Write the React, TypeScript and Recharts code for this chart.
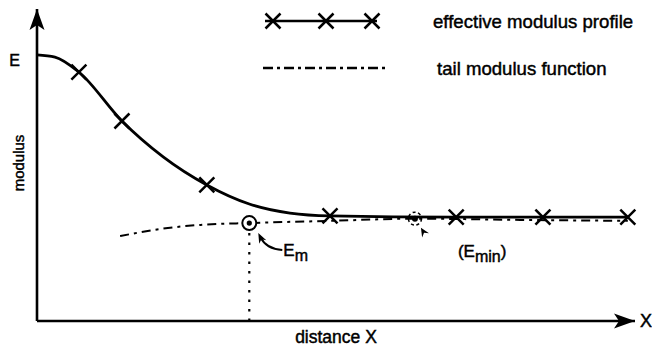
import {
  ComposedChart, Line, Scatter, XAxis, YAxis, ReferenceLine, ReferenceDot, Legend,
} from "recharts";

// values (distance 0-100, modulus 0-100)
const profileDistance = [0, 3.0, 7.0, 14.2, 21.1, 28.4, 35.5, 42.3, 49.0, 70.1, 84.6, 98.8];
const profileModulus = [85.3, 84.6, 79.8, 64.1, 52.6, 43.6, 37.5, 34.6, 33.7, 33.3, 33.3, 33.3];
const markDistance = [7.0, 14.2, 28.4, 49.0, 70.1, 84.6, 98.8];
const markModulus = [79.8, 64.1, 43.6, 33.7, 33.3, 33.3, 33.3];
const tailDistance = [13.9, 20.6, 27.3, 35.5, 49.0, 63.2, 80.8, 98.8];
const tailModulus = [27.2, 29.5, 30.8, 31.4, 32.1, 32.8, 32.4, 32.1];
const eMax = 85.3;
const eM = { x: 35.5, y: 31.4 };
const eMin = { x: 63.2, y: 32.8 };

const FONT = "'Liberation Sans', Arial, sans-serif";
const INK = "#000";
// scanned print looks a bit heavy, so text gets a hairline stroke
const heavy = { stroke: INK, strokeWidth: 0.45 };

const profileData = profileDistance.map((x, i) => ({ x, y: profileModulus[i] }));
const markData = markDistance.map((x, i) => ({ x, y: markModulus[i] }));
const tailData = tailDistance.map((x, i) => ({ x, y: tailModulus[i] }));

function cross(cx: number, cy: number, s = 7.5) {
  return (
    <g stroke={INK} strokeWidth={2.5}>
      <line x1={cx - s} y1={cy - s} x2={cx + s} y2={cy + s} />
      <line x1={cx - s} y1={cy + s} x2={cx + s} y2={cy - s} />
    </g>
  );
}

// filled arrow head, tip at (tx,ty), coming from (fx,fy)
function arrowHead(tx: number, ty: number, fx: number, fy: number, len = 10, half = 4.5) {
  const dx = tx - fx, dy = ty - fy;
  const d = Math.hypot(dx, dy) || 1;
  const ux = dx / d, uy = dy / d;
  const bx = tx - ux * len, by = ty - uy * len;
  const nx = bx + ux * 3, ny = by + uy * 3;
  return (
    <polygon
      fill={INK}
      points={`${tx},${ty} ${bx - uy * half},${by + ux * half} ${nx},${ny} ${bx + uy * half},${by - ux * half}`}
    />
  );
}

const MarkShape = (p: any) => cross(p.cx, p.cy);

const ETick = (p: any) => (
  <text x={p.x - 2} y={p.y + 6} textAnchor="end" dominantBaseline="central" fontFamily={FONT} fontSize={16} fill={INK} {...heavy}>
    E
  </text>
);

const ModulusLabel = (p: any) => {
  const vb = p.viewBox || { x: 0, y: 9, width: 37, height: 312 };
  const x = vb.x + vb.width / 2;
  const y = vb.y + vb.height / 2 - 2;
  return (
    <text
      x={x}
      y={y}
      transform={`rotate(-90 ${x} ${y})`}
      textAnchor="middle"
      dominantBaseline="central"
      fontFamily={FONT}
      fontSize={15}
      fill={INK}
      {...heavy}
    >
      modulus
    </text>
  );
};

const EmShape = (p: any) => {
  const { cx, cy } = p;
  return (
    <g>
      <circle cx={cx} cy={cy} r={7} fill="#fff" stroke={INK} strokeWidth={2} />
      <circle cx={cx} cy={cy} r={2.6} fill={INK} />
      <path d={`M${cx + 33},${cy + 27} Q${cx + 17},${cy + 26} ${cx + 11},${cy + 14}`} fill="none" stroke={INK} strokeWidth={2} />
      {arrowHead(cx + 9, cy + 10, cx + 14, cy + 20, 10, 4)}
      <text x={cx + 34} y={cy + 33} fontFamily={FONT} fontSize={17} fill={INK} {...heavy}>
        E<tspan fontSize={16} dy={5}>m</tspan>
      </text>
    </g>
  );
};

const EminShape = (p: any) => {
  const { cx, cy } = p;
  return (
    <g>
      <circle cx={cx} cy={cy} r={6.5} fill="none" stroke={INK} strokeWidth={1.5} strokeDasharray="3 2.5" />
      <circle cx={cx} cy={cy} r={3} fill={INK} />
      {arrowHead(cx + 6, cy + 9, cx + 12, cy + 19, 9, 4)}
      <text x={cx + 43} y={cy + 38} fontFamily={FONT} fontSize={17} fill={INK} {...heavy}>
        (E<tspan fontSize={16} dy={5}>min</tspan><tspan dy={-5}>)</tspan>
      </text>
    </g>
  );
};

const UpArrow = (p: any) => {
  const { cx, cy } = p;
  return <polygon fill={INK} points={`${cx},${cy} ${cx + 7.5},${cy + 21} ${cx},${cy + 16} ${cx - 7.5},${cy + 21}`} />;
};

const RightArrow = (p: any) => {
  const { cx, cy } = p;
  return (
    <g>
      <polygon fill={INK} points={`${cx},${cy} ${cx - 21},${cy - 7.5} ${cx - 16},${cy} ${cx - 21},${cy + 7.5}`} />
      <text x={cx + 11} y={cy} fontFamily={FONT} fontSize={18} fill={INK} textAnchor="middle" dominantBaseline="central" {...heavy}>
        X
      </text>
    </g>
  );
};

const LegendContent = () => (
  <svg width={652} height={90} style={{ display: "block" }}>
    <line x1={265} y1={21} x2={377} y2={21} stroke={INK} strokeWidth={2.5} />
    {cross(273, 21)}
    {cross(326, 21)}
    {cross(372, 21)}
    <text x={433} y={21} fontFamily={FONT} fontSize={18.6} fill={INK} dominantBaseline="central" {...heavy}>
      effective modulus profile
    </text>
    <line x1={263} y1={68} x2={387} y2={68} stroke={INK} strokeWidth={2.5} strokeDasharray="10 4 3 4" />
    <text x={437} y={68} fontFamily={FONT} fontSize={18.6} fill={INK} dominantBaseline="central" {...heavy}>
      tail modulus function
    </text>
  </svg>
);

export default function App() {
  return (
    <div style={{ position: "absolute", left: 0, top: 0, width: 652, height: 346, background: "#fff" }}>
      <ComposedChart
        width={652}
        height={346}
        margin={{ top: 9, right: 17, bottom: 0, left: 0 }}
        style={{ fontFamily: FONT }}
      >
        <XAxis
          type="number"
          dataKey="x"
          domain={[0, 100]}
          height={25}
          tick={false}
          tickLine={false}
          axisLine={{ stroke: INK, strokeWidth: 2.6 }}
          label={{ value: "distance X", position: "insideBottom", offset: 3, fill: INK, fontSize: 17.5, ...heavy }}
        />
        <YAxis
          type="number"
          domain={[0, 100]}
          width={37}
          ticks={[eMax]}
          tickLine={false}
          tickSize={0}
          tickMargin={15}
          tick={ETick}
          axisLine={{ stroke: INK, strokeWidth: 2.6 }}
          label={{ content: ModulusLabel }}
        />
        <Legend
          layout="horizontal"
          verticalAlign="middle"
          align="center"
          wrapperStyle={{ top: 0, left: 0, width: 652, height: 90 }}
          content={LegendContent}
        />
        <ReferenceLine
          segment={[{ x: eM.x, y: 0 }, { x: eM.x, y: eM.y }]}
          stroke={INK}
          strokeWidth={2.2}
          strokeDasharray="2.5 7"
        />
        <Line
          data={tailData}
          dataKey="y"
          type="monotone"
          stroke={INK}
          strokeWidth={2}
          strokeDasharray="9 5 3 5"
          dot={false}
          activeDot={false}
          isAnimationActive={false}
        />
        <Line
          data={profileData}
          dataKey="y"
          type="monotone"
          stroke={INK}
          strokeWidth={2.8}
          dot={false}
          activeDot={false}
          isAnimationActive={false}
        />
        <Scatter data={markData} dataKey="y" shape={MarkShape} isAnimationActive={false} />
        <ReferenceDot x={eM.x} y={eM.y} shape={EmShape} ifOverflow="visible" />
        <ReferenceDot x={eMin.x} y={eMin.y} shape={EminShape} ifOverflow="visible" />
        <ReferenceDot x={0} y={100} shape={UpArrow} ifOverflow="visible" />
        <ReferenceDot x={100} y={0} shape={RightArrow} ifOverflow="visible" />
      </ComposedChart>
    </div>
  );
}
